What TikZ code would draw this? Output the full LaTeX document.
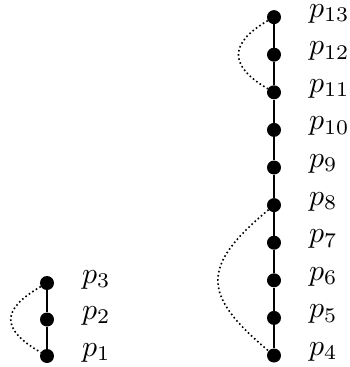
\documentclass[tikz,border=0pt]{standalone}
\usepackage{graphicx}
\newcommand{\biglab}[1]{\scalebox{3.0}{$p_{#1}$}}
\begin{document}
\begin{tikzpicture}[x=1bp,y=-1bp,
  pt/.style={circle,fill=black,inner sep=0pt,minimum size=14bp},
  lab/.style={anchor=base west,inner sep=0pt},
  chain/.style={line width=2.6bp},
  link/.style={line width=1.6bp,dash pattern=on 1.6bp off 2.6bp}]
\useasboundingbox (0,0) rectangle (350,367);
% left chain
\foreach \i/\y in {1/356,2/319.5,3/283}{
  \node[pt] (p\i) at (47,\y) {};
  \node[lab] (l\i) at (82,\y) {\biglab{\i}};
}
% right chain
\foreach \i in {4,...,13}{
  \pgfmathsetmacro{\yy}{355.5-(\i-4)*37.6}
  \node[pt] (p\i) at (274,\yy) {};
  \node[lab] (l\i) at (309,\yy) {\biglab{\i}};
}
\draw[chain] (p1) -- (p2) -- (p3);
\draw[chain] (p4) -- (p5) -- (p6) -- (p7) -- (p8) -- (p9) -- (p10) -- (p11) -- (p12) -- (p13);
\draw[link] (p3) to[out=210,in=150,looseness=1.8] (p1);
\draw[link] (p13) to[out=210,in=150,looseness=1.7] (p11);
\draw[link] (p8) to[out=220,in=140,looseness=1.6] (p4);
\end{tikzpicture}
\end{document}
